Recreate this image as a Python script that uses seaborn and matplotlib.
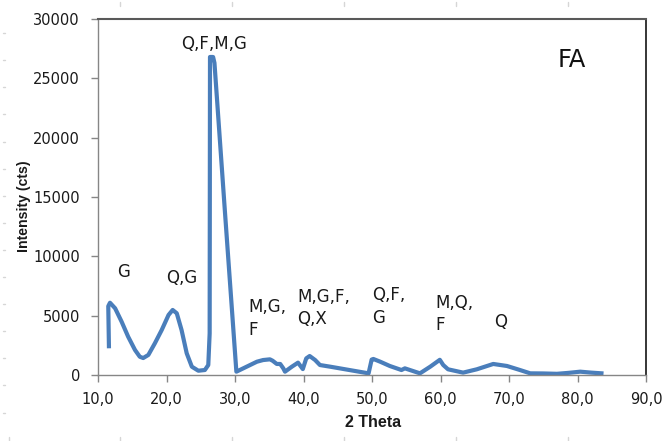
import numpy as np
import pandas as pd
import seaborn as sns
import matplotlib
matplotlib.use("Agg")
import matplotlib.pyplot as plt
from matplotlib.lines import Line2D
from matplotlib.ticker import FixedLocator, FuncFormatter

# XRD pattern of the FA sample
two_theta = [11.6, 11.5, 11.75, 12.5, 13.45, 14.4, 15.4, 16.1, 16.6, 17.35, 18.3,
             19.3, 20.3, 20.9, 21.5, 22.2, 22.95, 23.7, 24.65, 25.6, 26.1, 26.3,
             26.35, 26.8, 27.0, 28.5, 30.2, 31.2, 32.2, 33.2, 34.1, 35.1, 35.5,
             36.1, 36.6, 37.05, 37.3, 38.3, 39.2, 39.9, 40.4, 40.9, 41.7, 42.4,
             43.9, 45.3, 47.3, 49.5, 49.95, 50.2, 51.2, 52.6, 54.3, 54.8, 55.8,
             57.0, 58.5, 59.9, 60.4, 61.1, 63.3, 65.3, 67.7, 69.7, 71.6, 73.1,
             75.0, 77.0, 78.7, 80.4, 82.0, 83.8]
intensity = [2250, 5800, 6090, 5620, 4490, 3230, 2110, 1540, 1430, 1690, 2670,
             3790, 5060, 5480, 5200, 3790, 1830, 700, 360, 420, 840, 3500,
             26800, 26800, 26300, 14000, 280, 560, 840, 1120, 1260, 1320, 1200,
             930, 930, 560, 280, 700, 1040, 500, 1400, 1600, 1260, 840,
             700, 560, 360, 140, 1300, 1350, 1120, 760, 420, 560, 370,
             140, 700, 1280, 840, 480, 200, 480, 930, 760, 420, 140,
             130, 100, 180, 280, 200, 130]

# Phase labels above the peaks
phase_labels = ["G", "Q,G", "Q,F,M,G", "M,G,\nF", "M,G,F,\nQ,X", "Q,F,\nG", "M,Q,\nF", "Q"]
label_x = [13.8, 22.26, 26.93, 31.9, 39.05, 49.95, 59.2, 68.8]
label_y = [8680, 8170, 27890, 4760, 5650, 5770, 5140, 4470]
label_ha = ["center", "center", "center", "left", "left", "left", "left", "center"]

x_ticks = [10, 20, 30, 40, 50, 60, 70, 80, 90]
y_ticks = [0, 5000, 10000, 15000, 20000, 25000, 30000]

sample_name = "FA"

df = pd.DataFrame({"2 Theta": two_theta, "Intensity (cts)": intensity})

sns.set_theme(style="white")
plt.rcParams["font.family"] = ["DejaVu Sans"]

fig = plt.figure(figsize=(6.65, 4.41), dpi=100)
ax = fig.add_axes([98 / 665, 66 / 441, 548 / 665, 356 / 441])

line_color = "#4A7EBB"
sns.lineplot(data=df, x="2 Theta", y="Intensity (cts)", ax=ax, color=line_color,
             linewidth=3.0, estimator=None, sort=False)
for ln in ax.get_lines():
    ln.set_solid_joinstyle("round")
    ln.set_solid_capstyle("butt")

ax.set_xlim(10, 90)
ax.set_ylim(0, 30000)
ax.xaxis.set_major_locator(FixedLocator(x_ticks))
ax.yaxis.set_major_locator(FixedLocator(y_ticks))
ax.xaxis.set_major_formatter(FuncFormatter(lambda v, p: f"{v:.1f}".replace(".", ",")))
ax.yaxis.set_major_formatter(FuncFormatter(lambda v, p: f"{int(v)}"))

axis_gray = "#868686"
ax.tick_params(axis="both", which="major", direction="out", length=5, width=1,
               color=axis_gray, labelsize=10.5, labelcolor="#1a1a1a", pad=6)
ax.tick_params(axis="x", bottom=True, pad=7)
ax.tick_params(axis="y", left=True, pad=8)

for side in ("left", "bottom"):
    ax.spines[side].set_color(axis_gray)
    ax.spines[side].set_linewidth(1.0)
ax.spines["top"].set_color("#595959")
ax.spines["top"].set_linewidth(1.5)
ax.spines["right"].set_color("#262626")
ax.spines["right"].set_linewidth(1.3)
for sp in ax.spines.values():
    sp.set_visible(True)
ax.grid(False)

label_font = ["Liberation Sans Narrow", "Liberation Sans", "DejaVu Sans"]
ax.set_xlabel("2 Theta", fontsize=11.5, fontweight="bold", color="#1a1a1a",
              family=["Liberation Sans", "DejaVu Sans"])
ax.set_ylabel("Intensity (cts)", fontsize=10.2, fontweight="bold", color="#1a1a1a",
              family=label_font)
ax.xaxis.set_label_coords(0.502, -0.113)
ax.yaxis.set_label_coords(-0.122, 0.475)

for txt, lx, ly, ha in zip(phase_labels, label_x, label_y, label_ha):
    ax.text(lx, ly, txt, ha=ha, va="center", fontsize=12, color="#1a1a1a",
            linespacing=1.35)

ax.text(79.15, 26545, sample_name, ha="center", va="center", fontsize=17.5,
        color="#111111")

# faint worksheet cell marks around the chart
mark_color = "#d6d6d6"
for k in range(1, 16):
    yy = 1 - (6 + 27.1 * k) / 441
    fig.add_artist(Line2D([3 / 665, 5 / 665], [yy, yy], transform=fig.transFigure,
                          color=mark_color, lw=1))
for k in range(6):
    xx = (8.5 + 111.8 * k) / 665
    fig.add_artist(Line2D([xx, xx], [0, 4 / 441], transform=fig.transFigure,
                          color=mark_color, lw=1))
    if k >= 1:
        fig.add_artist(Line2D([xx, xx], [1 - 6 / 441, 1 - 2 / 441],
                              transform=fig.transFigure, color=mark_color, lw=1))

fig.savefig("out.png", dpi=100)
